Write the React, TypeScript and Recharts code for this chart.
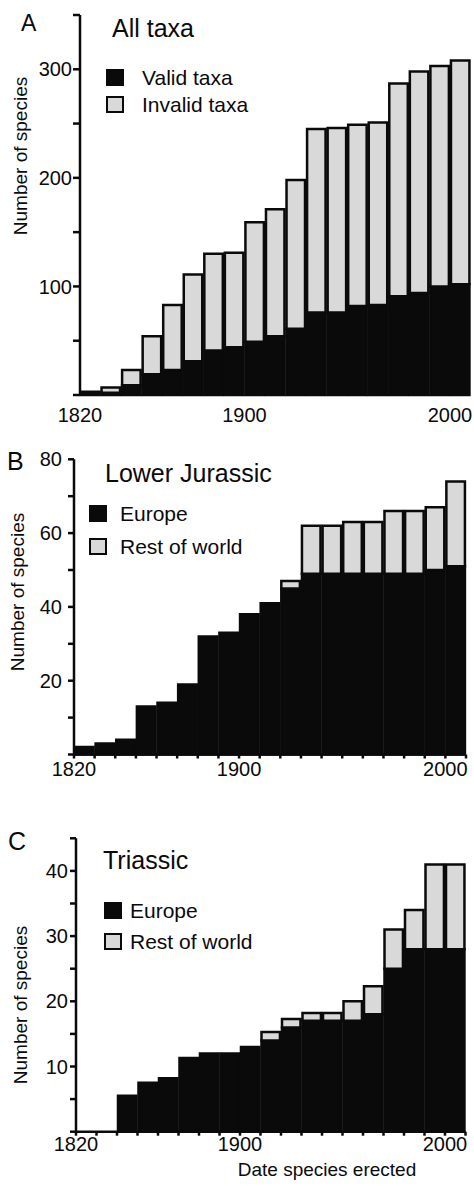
import { BarChart, Bar, XAxis, YAxis, Legend } from 'recharts'

const FONT = '"Liberation Sans", Arial, sans-serif'
const INK = '#0a0a0a'
const GREY = '#d9d9d9'

// decade bins, each bar spans [start, start + 10)
const decades = [1820, 1830, 1840, 1850, 1860, 1870, 1880, 1890, 1900, 1910, 1920, 1930, 1940, 1950, 1960, 1970, 1980, 1990, 2000]
const decadeTicks = [1820, 1830, 1840, 1850, 1860, 1870, 1880, 1890, 1900, 1910, 1920, 1930, 1940, 1950, 1960, 1970, 1980, 1990, 2000, 2010]
const yearLabels = [1820, 1900, 2000]

// A: all taxa
const allValid = [3, 2, 9, 19, 23, 31, 41, 44, 49, 54, 61, 76, 76, 82, 83, 91, 94, 100, 102]
const allInvalid = [0, 5, 14, 35, 60, 80, 89, 87, 110, 117, 137, 169, 170, 167, 168, 196, 204, 203, 206]

// B: Lower Jurassic
const ljEurope = [2, 3, 4, 13, 14, 19, 32, 33, 38, 41, 45, 49, 49, 49, 49, 49, 49, 50, 51]
const ljRest = [0, 0, 0, 0, 0, 0, 0, 0, 0, 0, 2, 13, 13, 14, 14, 17, 17, 17, 23]

// C: Triassic
const triEurope = [0, 0, 5.5, 7.5, 8.2, 11.3, 12, 12, 13, 14, 16, 17, 17, 17, 18, 25, 28, 28, 28]
const triRest = [0, 0, 0, 0, 0, 0, 0, 0, 0, 1.3, 1.3, 1.2, 1.2, 3, 4.3, 6, 6, 13, 13]

const ticksA = [0, 50, 100, 150, 200, 250, 300, 350]
const labelsA = [100, 200, 300]
const ticksB = [0, 10, 20, 30, 40, 50, 60, 70, 80]
const labelsB = [20, 40, 60, 80]
const ticksC = [0, 5, 10, 15, 20, 25, 30, 35, 40, 45]
const labelsC = [10, 20, 30, 40]

function buildRows(lower: number[], upper: number[]) {
  return decades.map((d, i) => ({ mid: d + 5, lower: lower[i], upper: upper[i] }))
}

interface LegendEntry {
  value: string
  color: string
}

function LegendBox({ payload, order, gap, textX }: { payload?: LegendEntry[]; order: string[]; gap: number; textX: number }) {
  const items = [...(payload ?? [])].sort((a, b) => order.indexOf(a.value) - order.indexOf(b.value))
  return (
    <div style={{ fontFamily: FONT, fontSize: 21, color: INK }}>
      {items.map((it) => (
        <div key={it.value} style={{ display: 'flex', alignItems: 'center', height: gap }}>
          <span
            style={{
              display: 'inline-block',
              width: 18,
              height: 17,
              boxSizing: 'border-box',
              background: it.color,
              border: `2.5px solid ${INK}`,
              marginRight: textX - 18,
            }}
          />
          <span style={{ lineHeight: 1 }}>{it.value}</span>
        </div>
      ))}
    </div>
  )
}

interface PanelProps {
  top: number
  height: number
  margin: { top: number; right: number; bottom: number; left: number }
  yWidth: number
  yMax: number
  yTicks: number[]
  yLabels: number[]
  yTickSize: number
  yTickMargin: number
  showXLine: boolean
  xTickSize: number
  xTickMargin: number
  rows: { mid: number; lower: number; upper: number }[]
  names: string[]
  legendLeft: number
  legendTop: number
  legendGap: number
  legendTextX: number
}

function Panel(p: PanelProps) {
  const width = 474
  const plotW = width - p.margin.left - p.margin.right - p.yWidth
  const barW = plotW / decades.length
  const tickStyle = { fontSize: 20, fill: INK, fontFamily: FONT }
  const line = { stroke: INK, strokeWidth: 2.5 }
  return (
    <div style={{ position: 'absolute', left: 0, top: p.top }}>
      <BarChart width={width} height={p.height} data={p.rows} margin={p.margin} barCategoryGap={0}>
        <XAxis
          type="number"
          dataKey="mid"
          domain={[1820, 2010]}
          ticks={p.showXLine ? decadeTicks : yearLabels}
          interval={0}
          height={30}
          axisLine={p.showXLine ? line : false}
          tickLine={p.showXLine ? line : false}
          tickSize={p.xTickSize}
          tickMargin={p.xTickMargin}
          tick={tickStyle}
          tickFormatter={(v: number) => (yearLabels.includes(v) ? String(v) : '')}
        />
        <YAxis
          type="number"
          domain={[0, p.yMax]}
          ticks={p.yTicks}
          interval={0}
          width={p.yWidth}
          axisLine={line}
          tickLine={line}
          tickSize={p.yTickSize}
          tickMargin={p.yTickMargin}
          tick={tickStyle}
          tickFormatter={(v: number) => (p.yLabels.includes(v) ? String(v) : '')}
        />
        <Legend
          layout="vertical"
          align="center"
          verticalAlign="middle"
          wrapperStyle={{ left: p.legendLeft, top: p.legendTop, width: 'auto', height: 'auto' }}
          content={(props: any) => (
            <LegendBox payload={props.payload} order={p.names} gap={p.legendGap} textX={p.legendTextX} />
          )}
        />
        <Bar dataKey="lower" name={p.names[0]} stackId="s" fill={INK} stroke={INK} strokeWidth={2.5} barSize={barW} isAnimationActive={false} />
        <Bar dataKey="upper" name={p.names[1]} stackId="s" fill={GREY} stroke={INK} strokeWidth={2.5} barSize={barW} isAnimationActive={false} />
      </BarChart>
    </div>
  )
}

export default function App() {
  return (
    <div style={{ position: 'absolute', left: 0, top: 0, width: 474, height: 1186, background: '#fff', fontFamily: FONT }}>
      <Panel
        top={0}
        height={440}
        margin={{ top: 15, right: 3.5, bottom: 15, left: 0 }}
        yWidth={80}
        yMax={350}
        yTicks={ticksA}
        yLabels={labelsA}
        yTickSize={7}
        yTickMargin={1}
        showXLine={false}
        xTickSize={6}
        xTickMargin={7}
        rows={buildRows(allValid, allInvalid)}
        names={['Valid taxa', 'Invalid taxa']}
        legendLeft={106}
        legendTop={64}
        legendGap={27}
        legendTextX={36}
      />
      <Panel
        top={420}
        height={390}
        margin={{ top: 39.3, right: 8, bottom: 25.5, left: 0 }}
        yWidth={74}
        yMax={80}
        yTicks={ticksB}
        yLabels={labelsB}
        yTickSize={6}
        yTickMargin={6}
        showXLine={true}
        xTickSize={4}
        xTickMargin={3.5}
        rows={buildRows(ljEurope, ljRest)}
        names={['Europe', 'Rest of world']}
        legendLeft={89}
        legendTop={77}
        legendGap={33}
        legendTextX={31}
      />
      <Panel
        top={800}
        height={386}
        margin={{ top: 38.3, right: 8.5, bottom: 24.3, left: 0 }}
        yWidth={76}
        yMax={45}
        yTicks={ticksC}
        yLabels={labelsC}
        yTickSize={6}
        yTickMargin={2}
        showXLine={true}
        xTickSize={4}
        xTickMargin={1.5}
        rows={buildRows(triEurope, triRest)}
        names={['Europe', 'Rest of world']}
        legendLeft={104}
        legendTop={95}
        legendGap={31}
        legendTextX={26}
      />
      <svg
        width={474}
        height={1186}
        style={{ position: 'absolute', left: 0, top: 0, pointerEvents: 'none' }}
        fontFamily={FONT}
        fill={INK}
      >
        <text x={21} y={31} fontSize={23}>A</text>
        <text x={112} y={37} fontSize={25}>All taxa</text>
        <text x={27} y={156} fontSize={19} textAnchor="middle" transform="rotate(-90 27 156)">Number of species</text>

        <text x={7} y={470} fontSize={25}>B</text>
        <text x={105} y={482} fontSize={25}>Lower Jurassic</text>
        <text x={24} y={592} fontSize={19} textAnchor="middle" transform="rotate(-90 24 592)">Number of species</text>

        <text x={8} y={850} fontSize={25}>C</text>
        <text x={103} y={869} fontSize={25}>Triassic</text>
        <text x={27} y={1005} fontSize={19} textAnchor="middle" transform="rotate(-90 27 1005)">Number of species</text>
        <text x={327} y={1176} fontSize={19} textAnchor="middle">Date species erected</text>
      </svg>
    </div>
  )
}
